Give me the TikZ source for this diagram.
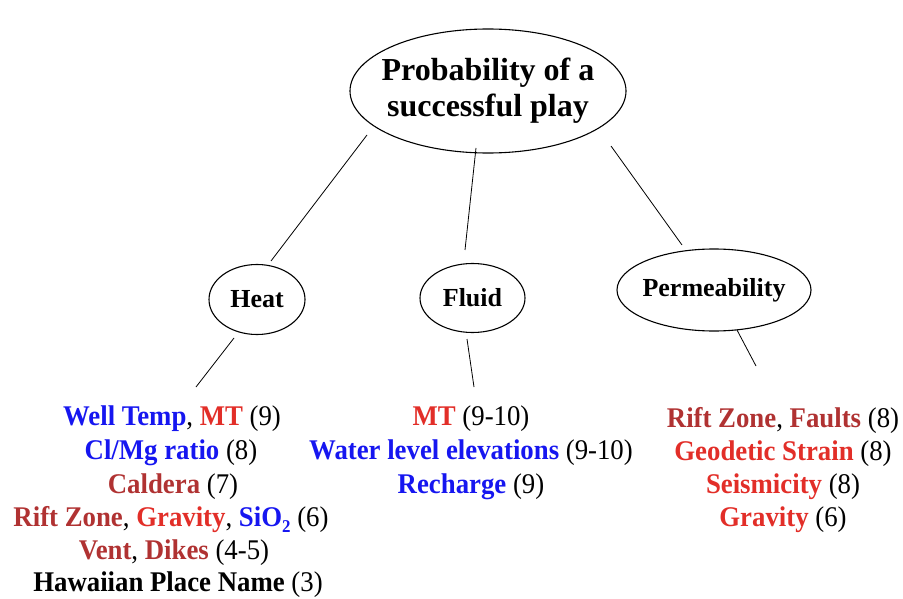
\documentclass[tikz,border=0pt]{standalone}
\usepackage{fontspec}
\setmainfont{Liberation Serif}
\newfontfamily\listfont{Liberation Serif}[FakeStretch=0.94]
\definecolor{cblue}{RGB}{22,22,240}
\definecolor{cred}{RGB}{226,46,40}
\definecolor{cbrown}{RGB}{176,50,50}
\newcommand{\B}[1]{\textcolor{cblue}{\textbf{#1}}}
\newcommand{\R}[1]{\textcolor{cred}{\textbf{#1}}}
\newcommand{\W}[1]{\textcolor{cbrown}{\textbf{#1}}}
\newcommand{\lowsub}[1]{\raisebox{-0.45ex}{\fontsize{18}{18}\selectfont #1}}
\begin{document}
\begin{tikzpicture}[x=1pt,y=-1pt,
  outline/.style={line width=1.1pt},
  lbl/.style={font=\fontsize{26}{30}\selectfont\bfseries},
  txt/.style={font=\listfont\fontsize{28.5}{32}\selectfont,anchor=center},
  conn/.style={line width=0.8pt}]
\useasboundingbox (0,0) rectangle (903,599);
% ellipses
\node[align=center,font=\fontsize{32}{36}\selectfont\bfseries] (top) at (488,91)
  {Probability of a\\successful play};
\draw[outline] (top.center) ellipse [x radius=138pt, y radius=62pt];
\node[lbl] (heat) at (257,299.5) {Heat};
\draw[outline] (heat.center) ellipse [x radius=48pt, y radius=35pt];
\node[lbl] (fluid) at (472.5,298) {Fluid};
\draw[outline] (fluid.center) ellipse [x radius=52.5pt, y radius=34.5pt];
\node[lbl] (perm) at (714,290) {Permeability};
\draw[outline] (perm.center) ellipse [x radius=97pt, y radius=41pt];
% connector end points
\coordinate (t1) at (367,135); \coordinate (h1) at (271,261);
\coordinate (t2) at (476,148); \coordinate (f1) at (465,250);
\coordinate (t3) at (611,146); \coordinate (p1) at (682,245);
\coordinate (h2) at (234,338); \coordinate (h3) at (196,387);
\coordinate (f2) at (467,339); \coordinate (f3) at (474,387);
\coordinate (p2) at (737,330); \coordinate (p3) at (756,366);
\draw[conn] (t1) -- (h1);
\draw[conn] (t2) -- (f1);
\draw[conn] (t3) -- (p1);
\draw[conn] (h2) -- (h3);
\draw[conn] (f2) -- (f3);
\draw[conn] (p2) -- (p3);
% heat list
\node[txt] (a1) at (172,419) {\B{Well Temp}, \R{MT} (9)};
\node[txt] (a2) at (171,453) {\B{Cl/Mg ratio} (8)};
\node[txt] (a3) at (173,487) {\W{Caldera} (7)};
\node[txt] (a4) at (171,520) {\W{Rift Zone}, \R{Gravity}, \B{SiO\lowsub{2}} (6)};
\node[txt] (a5) at (174,553) {\W{Vent}, \W{Dikes} (4-5)};
\node[txt] (a6) at (178,585) {\textbf{Hawaiian Place Name} (3)};
% fluid list
\node[txt] (b1) at (471,419) {\R{MT} (9-10)};
\node[txt] (b2) at (471,453) {\B{Water level elevations} (9-10)};
\node[txt] (b3) at (471,487) {\B{Recharge} (9)};
% permeability list
\node[txt] (c1) at (783,420) {\W{Rift Zone}, \W{Faults} (8)};
\node[txt] (c2) at (783,454) {\R{Geodetic Strain} (8)};
\node[txt] (c3) at (783,487) {\R{Seismicity} (8)};
\node[txt] (c4) at (783,520) {\R{Gravity} (6)};
\end{tikzpicture}
\end{document}
